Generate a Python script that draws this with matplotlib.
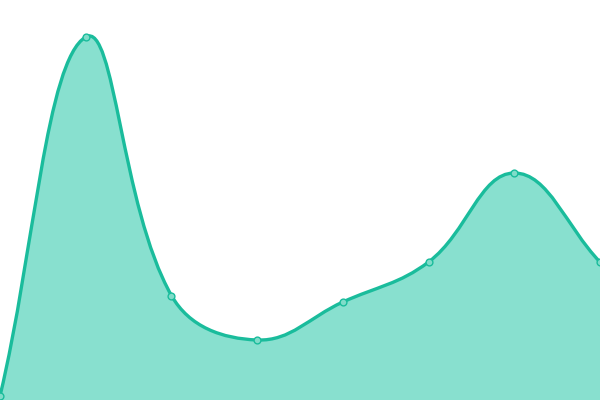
import numpy as np
import matplotlib
matplotlib.use("Agg")
import matplotlib.pyplot as plt
from matplotlib.path import Path
from matplotlib.patches import PathPatch

# values (one point per category)
labels = ["A", "B", "C", "D", "E", "F", "G", "H"]
values = [4, 363, 104.5, 60, 98, 138, 227, 138]

line_color = "#1abc9c"
fill_color = "#88e0cf"
point_color = "#80dcc9"
tension = 0.4

fig = plt.figure(figsize=(6, 4), dpi=100)
ax = fig.add_axes([0, 0, 1, 1])
ax.set_xlim(0, len(labels) - 1)
ax.set_ylim(0, 400)
ax.axis("off")

x = np.arange(len(labels))
# work in pixel space, like a canvas spline
pts = ax.transData.transform(np.column_stack([x, values]))

# control points the way a cardinal-type spline with tension 0.4 builds them
ctrl_prev = []
ctrl_next = []
for i in range(len(pts)):
    cur = pts[i]
    prev = pts[i - 1] if i > 0 else cur
    nxt = pts[i + 1] if i < len(pts) - 1 else cur
    d01 = np.hypot(*(cur - prev))
    d12 = np.hypot(*(nxt - cur))
    total = d01 + d12
    s01 = d01 / total if total else 0
    s12 = d12 / total if total else 0
    ctrl_prev.append(cur - tension * s01 * (nxt - prev))
    ctrl_next.append(cur + tension * s12 * (nxt - prev))

verts = [pts[0]]
codes = [Path.MOVETO]
for i in range(1, len(pts)):
    verts += [ctrl_next[i - 1], ctrl_prev[i], pts[i]]
    codes += [Path.CURVE4] * 3

inv = ax.transData.inverted()
curve = inv.transform(np.array(verts))

# area under the curve down to the baseline
fill_verts = np.vstack([curve, [[x[-1], 0], [x[0], 0], [x[0], values[0]]]])
fill_codes = codes + [Path.LINETO, Path.LINETO, Path.CLOSEPOLY]
ax.add_patch(PathPatch(Path(fill_verts, fill_codes), facecolor=fill_color,
                       edgecolor="none"))

ax.add_patch(PathPatch(Path(curve, codes), facecolor="none",
                       edgecolor=line_color, linewidth=2.4))

ax.scatter(x, values, s=24, facecolor=point_color, edgecolor=line_color,
           linewidth=1.0, zorder=5)

fig.savefig("out.png", dpi=100)
